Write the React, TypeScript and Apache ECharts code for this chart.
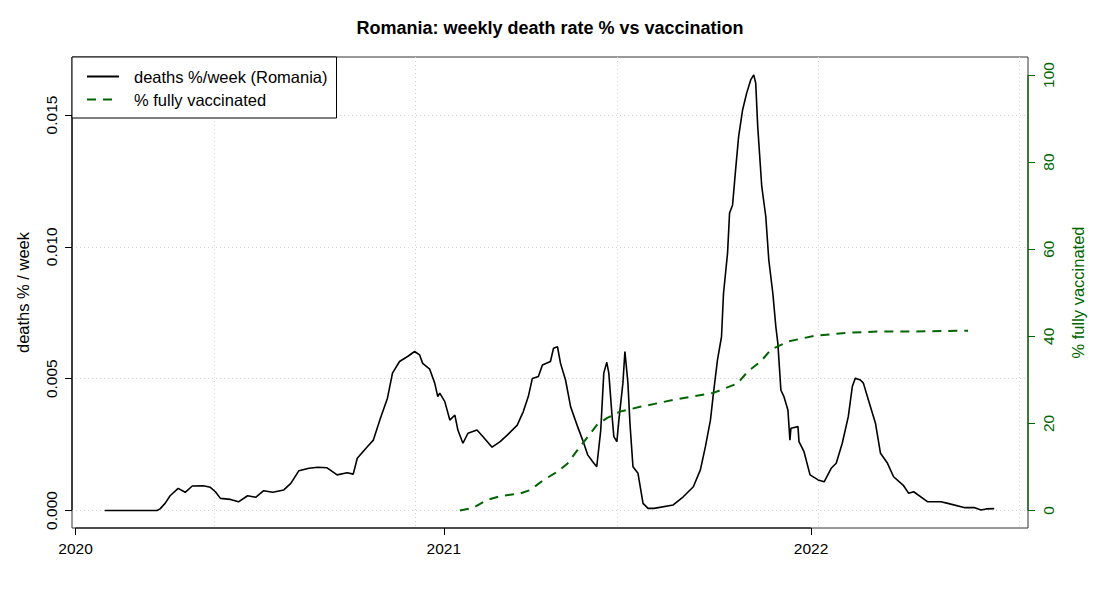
import React, { useEffect, useRef } from "react";
import * as echarts from "echarts";

const TITLE = "Romania: weekly death rate % vs vaccination";
const DEATH_LABEL = "deaths %/week (Romania)";
const VAX_LABEL = "% fully vaccinated";
const LEFT_NAME = "deaths % / week";
const RIGHT_NAME = "% fully vaccinated";

const deathDates = [
  "2020-01-30", "2020-03-22", "2020-03-25", "2020-03-30", "2020-04-04", "2020-04-12", "2020-04-19", "2020-04-26",
  "2020-05-07", "2020-05-14", "2020-05-19", "2020-05-24", "2020-06-03", "2020-06-11", "2020-06-20", "2020-06-28",
  "2020-07-06", "2020-07-15", "2020-07-26", "2020-08-02", "2020-08-10", "2020-08-20", "2020-08-29", "2020-09-07",
  "2020-09-17", "2020-09-27", "2020-10-03", "2020-10-07", "2020-10-17", "2020-10-23", "2020-10-30", "2020-11-06",
  "2020-11-11", "2020-11-18", "2020-11-26", "2020-12-03", "2020-12-08", "2020-12-11", "2020-12-18", "2020-12-23",
  "2020-12-26", "2020-12-28", "2021-01-02", "2021-01-07", "2021-01-12", "2021-01-15", "2021-01-20", "2021-01-25",
  "2021-02-03", "2021-02-09", "2021-02-18", "2021-02-26", "2021-03-05", "2021-03-15", "2021-03-21", "2021-03-26",
  "2021-03-30", "2021-04-05", "2021-04-09", "2021-04-17", "2021-04-20", "2021-04-24", "2021-04-27", "2021-05-02",
  "2021-05-07", "2021-05-14", "2021-05-19", "2021-05-24", "2021-05-29", "2021-06-02", "2021-06-06", "2021-06-09",
  "2021-06-12", "2021-06-14", "2021-06-17", "2021-06-19", "2021-06-22", "2021-06-24", "2021-06-28", "2021-06-30",
  "2021-07-03", "2021-07-05", "2021-07-08", "2021-07-13", "2021-07-18", "2021-07-23", "2021-07-29", "2021-08-17",
  "2021-08-27", "2021-09-06", "2021-09-13", "2021-09-18", "2021-09-23", "2021-09-26", "2021-09-30", "2021-10-04",
  "2021-10-06", "2021-10-10", "2021-10-12", "2021-10-15", "2021-10-18", "2021-10-21", "2021-10-25", "2021-10-29",
  "2021-11-02", "2021-11-05", "2021-11-07", "2021-11-09", "2021-11-13", "2021-11-17", "2021-11-20", "2021-11-24",
  "2021-11-27", "2021-11-29", "2021-12-02", "2021-12-05", "2021-12-09", "2021-12-11", "2021-12-12", "2021-12-19",
  "2021-12-20", "2021-12-25", "2021-12-31", "2022-01-08", "2022-01-14", "2022-01-21", "2022-01-26", "2022-02-01",
  "2022-02-07", "2022-02-11", "2022-02-14", "2022-02-19", "2022-02-22", "2022-02-27", "2022-03-06", "2022-03-11",
  "2022-03-18", "2022-03-24", "2022-04-03", "2022-04-08", "2022-04-13", "2022-04-27", "2022-05-10", "2022-05-17",
  "2022-06-02", "2022-06-12", "2022-06-19", "2022-06-24", "2022-07-02",
];

const deathValues = [
  0, 0, 0.00006, 0.00027, 0.00056, 0.00084, 0.00069, 0.00093,
  0.00094, 0.00088, 0.00071, 0.00046, 0.00042, 0.00033, 0.00056, 0.0005,
  0.00075, 0.00069, 0.00078, 0.00103, 0.00151, 0.0016, 0.00164, 0.00162,
  0.00135, 0.00143, 0.00138, 0.00198, 0.00242, 0.00267, 0.0035, 0.00426,
  0.00521, 0.00565, 0.00584, 0.00603, 0.0059, 0.00558, 0.00536, 0.00483,
  0.00432, 0.00445, 0.00413, 0.00343, 0.00362, 0.00305, 0.00255, 0.00293,
  0.00305, 0.0028, 0.0024, 0.00261, 0.00286, 0.00324, 0.00375, 0.00432,
  0.00501, 0.00508, 0.00552, 0.00565, 0.00615, 0.00621, 0.00558, 0.00495,
  0.00394, 0.00318, 0.00267, 0.00211, 0.00185, 0.00166, 0.00305, 0.00521,
  0.00562, 0.00521, 0.00369, 0.0028, 0.00261, 0.00343, 0.00483, 0.00603,
  0.00483, 0.00331, 0.00166, 0.00141, 0.00027, 0.00008, 0.00008, 0.00021,
  0.00052, 0.0009, 0.00154, 0.00242, 0.00343, 0.00445, 0.00571, 0.00659,
  0.00824, 0.00976, 0.01128, 0.01159, 0.01292, 0.01418, 0.0152, 0.01583,
  0.01633, 0.01652, 0.01621, 0.01456, 0.01229, 0.01115, 0.0095, 0.00824,
  0.00697, 0.00634, 0.00457, 0.00432, 0.00381, 0.00267, 0.00312, 0.00318,
  0.00261, 0.00223, 0.00135, 0.00116, 0.00109, 0.0016, 0.00179, 0.00255,
  0.00356, 0.0047, 0.00502, 0.00495, 0.00483, 0.00419, 0.00331, 0.00217,
  0.00179, 0.00128, 0.00094, 0.00065, 0.00071, 0.00033, 0.00033, 0.00027,
  0.00011, 0.00011, 0.00002, 0.00006, 0.00007,
];

const vaxDates = [
  "2021-01-17", "2021-01-30", "2021-02-13", "2021-02-26", "2021-03-18", "2021-03-28", "2021-04-10",
  "2021-04-24", "2021-05-04", "2021-05-14", "2021-05-24", "2021-06-02", "2021-06-12", "2021-06-25",
  "2021-07-15", "2021-08-01", "2021-08-17", "2021-09-26", "2021-10-20", "2021-10-30", "2021-11-12",
  "2021-11-22", "2021-12-09", "2022-01-04", "2022-02-06", "2022-03-11", "2022-04-13", "2022-06-06",
];

const vaxValues = [
  0, 0.6, 2.4, 3.3, 3.9, 4.7, 7.0,
  8.9, 10.8, 13.9, 16.9, 19.6, 21.2, 22.7,
  23.8, 24.6, 25.4, 27.0, 29.2, 31.9, 34.2,
  36.9, 38.8, 40.1, 40.8, 41.1, 41.1, 41.3,
];

const yearTickDates = ["2020-01-01", "2021-01-01", "2022-01-01"];
const gridDayTicks = [18400, 18600, 18800, 19000, 19200];
const leftTicks = [0, 0.005, 0.01, 0.015];
const rightTicks = [0, 20, 40, 60, 80, 100];

const DAY_MS = 86400000;
const toDay = (s: string) => Date.parse(s + "T00:00:00Z") / DAY_MS;

const X_MIN = 18258.5;
const X_MAX = 19208.6;
const Y_MIN = -0.000664;
const Y_MAX = 0.0172;
const R_MIN = -4.02;
const R_MAX = 104.13;

const FONT = "'Liberation Sans', Arial, Helvetica, sans-serif";
const GREEN = "#006400";
const GRID_LINE = { color: "#d3d3d3", width: 1, type: [1, 3] as number[] };

export default function App() {
  const ref = useRef<HTMLDivElement>(null);

  useEffect(() => {
    if (!ref.current) return;
    const chart = echarts.init(ref.current, undefined, { renderer: "svg" });
    const yearDays = yearTickDates.map(toDay);

    const option: any = {
      animation: false,
      backgroundColor: "#fff",
      textStyle: { fontFamily: FONT },
      title: {
        text: TITLE,
        left: "center",
        top: 19,
        padding: 0,
        textStyle: { fontFamily: FONT, fontSize: 18, fontWeight: "bold", color: "#000" },
      },
      legend: {
        orient: "vertical",
        left: 72,
        top: 57,
        data: [DEATH_LABEL, VAX_LABEL],
        backgroundColor: "#fff",
        borderColor: "#000",
        borderWidth: 1,
        padding: [11, 9, 10, 14],
        itemWidth: 32,
        itemHeight: 14,
        itemGap: 6,
        selectedMode: false,
        itemStyle: { opacity: 0, borderWidth: 0 },
        textStyle: { fontFamily: FONT, fontSize: 16.5, color: "#000", padding: [0, 0, 0, 10] },
        z: 10,
      },
      grid: {
        left: 72,
        top: 57,
        width: 956,
        height: 471,
        show: true,
        borderColor: "#333",
        borderWidth: 1,
        containLabel: false,
      },
      xAxis: [
        {
          type: "value",
          min: X_MIN,
          max: X_MAX,
          position: "bottom",
          axisLine: { show: false, onZero: false },
          axisTick: { show: true, customValues: yearDays, length: 7, lineStyle: { color: "#000" } },
          axisLabel: {
            customValues: yearDays,
            formatter: (v: number) => String(new Date(Math.round(v) * DAY_MS).getUTCFullYear()),
            fontFamily: FONT,
            fontSize: 15.5,
            color: "#000",
            margin: 12,
          },
          splitLine: { show: false },
        },
        {
          type: "value",
          min: X_MIN,
          max: X_MAX,
          position: "top",
          axisLine: { show: false, onZero: false },
          axisTick: { show: false, customValues: gridDayTicks },
          axisLabel: { show: false, customValues: gridDayTicks },
          splitLine: { show: true, lineStyle: GRID_LINE },
        },
      ],
      yAxis: [
        {
          type: "value",
          min: Y_MIN,
          max: Y_MAX,
          position: "left",
          name: LEFT_NAME,
          nameLocation: "middle",
          nameRotate: 90,
          nameGap: 41,
          nameTextStyle: { fontFamily: FONT, fontSize: 16.5, color: "#000" },
          axisLine: { show: false, onZero: false },
          axisTick: { show: true, customValues: leftTicks, length: 7, lineStyle: { color: "#000" } },
          axisLabel: {
            customValues: leftTicks,
            rotate: 90,
            formatter: (v: number) => v.toFixed(3),
            fontFamily: FONT,
            fontSize: 15.5,
            color: "#000",
            margin: 13,
          },
          splitLine: { show: true, lineStyle: GRID_LINE },
        },
        {
          type: "value",
          min: R_MIN,
          max: R_MAX,
          position: "right",
          name: RIGHT_NAME,
          nameLocation: "middle",
          nameRotate: 90,
          nameGap: 41,
          nameTextStyle: { fontFamily: FONT, fontSize: 16.5, color: GREEN },
          axisLine: { show: false, onZero: false },
          axisTick: { show: true, customValues: rightTicks, length: 7, lineStyle: { color: GREEN } },
          axisLabel: {
            customValues: rightTicks,
            rotate: 90,
            formatter: (v: number) => String(Math.round(v)),
            fontFamily: FONT,
            fontSize: 15.5,
            color: GREEN,
            margin: 12,
          },
          splitLine: { show: false },
        },
      ],
      series: [
        {
          type: "line",
          name: DEATH_LABEL,
          xAxisIndex: 0,
          yAxisIndex: 0,
          data: deathDates.map((d, i) => [toDay(d), deathValues[i]]),
          symbol: "none",
          lineStyle: { color: "#000", width: 1.6 },
          itemStyle: { color: "#000" },
          z: 3,
        },
        {
          type: "line",
          name: VAX_LABEL,
          xAxisIndex: 0,
          yAxisIndex: 1,
          data: vaxDates.map((d, i) => [toDay(d), vaxValues[i]]),
          symbol: "none",
          lineStyle: { color: GREEN, width: 2, type: [9, 7], cap: "butt" },
          itemStyle: { color: GREEN },
          z: 3,
        },
        {
          type: "custom",
          xAxisIndex: 0,
          yAxisIndex: 0,
          silent: true,
          clip: false,
          z: 4,
          data: [[X_MIN, 0]],
          renderItem: (_p: any, api: any) => {
            const a = api.coord([X_MIN, leftTicks[0]]);
            const b = api.coord([X_MIN, leftTicks[leftTicks.length - 1]]);
            const c = api.coord([yearDays[0], Y_MIN]);
            const d = api.coord([yearDays[yearDays.length - 1], Y_MIN]);
            return {
              type: "group",
              children: [
                { type: "line", shape: { x1: a[0], y1: a[1], x2: b[0], y2: b[1] }, style: { stroke: "#000", lineWidth: 1.2 } },
                { type: "line", shape: { x1: c[0], y1: c[1], x2: d[0], y2: d[1] }, style: { stroke: "#000", lineWidth: 1.2 } },
              ],
            };
          },
        },
        {
          type: "custom",
          xAxisIndex: 0,
          yAxisIndex: 1,
          silent: true,
          clip: false,
          z: 4,
          data: [[X_MAX, 0]],
          renderItem: (_p: any, api: any) => {
            const a = api.coord([X_MAX, rightTicks[0]]);
            const b = api.coord([X_MAX, rightTicks[rightTicks.length - 1]]);
            return {
              type: "line",
              shape: { x1: a[0], y1: a[1], x2: b[0], y2: b[1] },
              style: { stroke: GREEN, lineWidth: 1.2 },
            };
          },
        },
      ],
    };

    chart.setOption(option);
    return () => chart.dispose();
  }, []);

  return (
    <div
      ref={ref}
      style={{ position: "fixed", left: 0, top: 0, width: 1100, height: 600, background: "#fff" }}
    />
  );
}
